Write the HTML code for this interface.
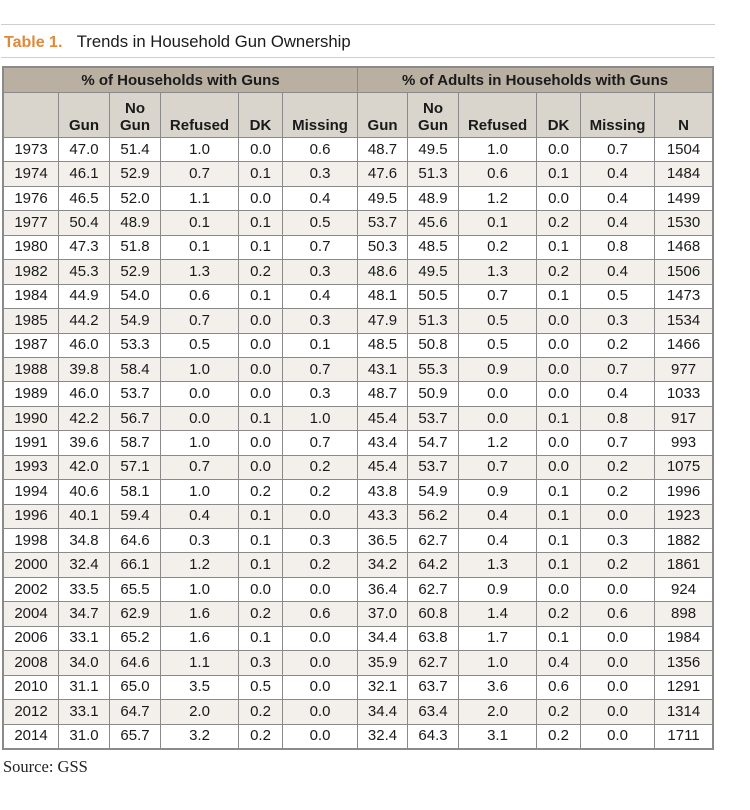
<!DOCTYPE html>
<html><head><meta charset="utf-8"><style>
html,body{margin:0;padding:0;background:#fff;width:750px;height:810px;overflow:hidden;position:relative;font-family:"Liberation Sans",Arial,sans-serif;color:#1a1a1a}
.rule{position:absolute;left:1px;width:714px;height:1px;background:#cfcfcf}
.title{position:absolute;left:4px;top:33px;font-size:16.7px;line-height:18px;white-space:nowrap}
.title b{color:#e0893a;margin-right:10px;font-size:16px}
table{position:absolute;left:3px;top:67px;border-collapse:collapse;table-layout:fixed;width:709px;font-size:15px}
td,th{padding:0;border:1px solid #8a8a8a;text-align:center;overflow:hidden;white-space:nowrap}
tr.h1 th{background:#b9b0a2;height:24px;font-size:15px;border-color:#8a8a8a}
tr.h2 th{background:#d9d4cc;height:41px;vertical-align:bottom;padding-bottom:3px;line-height:17px;font-size:15px}
tr.d td{height:23.45px;line-height:18px}
tr.d:nth-child(even) td{background:#f3f0ec}
table{outline:1px solid #8a8a8a}
.src{position:absolute;left:3px;top:757px;font-family:"Liberation Serif","Times New Roman",serif;font-size:16.5px;color:#222}
</style></head><body>
<div class="rule" style="top:24px"></div>
<div class="title"><b>Table 1.</b> Trends in Household Gun Ownership</div>
<div class="rule" style="top:57px"></div>
<table>
<colgroup><col style="width:55px"><col style="width:51px"><col style="width:51px"><col style="width:78px"><col style="width:44px"><col style="width:75px"><col style="width:50px"><col style="width:51px"><col style="width:78px"><col style="width:44px"><col style="width:74px"><col style="width:58px"></colgroup>
<tbody>
<tr class="h1"><th colspan="6">% of Households with Guns</th><th colspan="6">% of Adults in Households with Guns</th></tr>
<tr class="h2"><th></th><th>Gun</th><th>No<br>Gun</th><th>Refused</th><th>DK</th><th>Missing</th><th>Gun</th><th>No<br>Gun</th><th>Refused</th><th>DK</th><th>Missing</th><th>N</th></tr>
<tr class="d"><td>1973</td><td>47.0</td><td>51.4</td><td>1.0</td><td>0.0</td><td>0.6</td><td>48.7</td><td>49.5</td><td>1.0</td><td>0.0</td><td>0.7</td><td>1504</td></tr>
<tr class="d"><td>1974</td><td>46.1</td><td>52.9</td><td>0.7</td><td>0.1</td><td>0.3</td><td>47.6</td><td>51.3</td><td>0.6</td><td>0.1</td><td>0.4</td><td>1484</td></tr>
<tr class="d"><td>1976</td><td>46.5</td><td>52.0</td><td>1.1</td><td>0.0</td><td>0.4</td><td>49.5</td><td>48.9</td><td>1.2</td><td>0.0</td><td>0.4</td><td>1499</td></tr>
<tr class="d"><td>1977</td><td>50.4</td><td>48.9</td><td>0.1</td><td>0.1</td><td>0.5</td><td>53.7</td><td>45.6</td><td>0.1</td><td>0.2</td><td>0.4</td><td>1530</td></tr>
<tr class="d"><td>1980</td><td>47.3</td><td>51.8</td><td>0.1</td><td>0.1</td><td>0.7</td><td>50.3</td><td>48.5</td><td>0.2</td><td>0.1</td><td>0.8</td><td>1468</td></tr>
<tr class="d"><td>1982</td><td>45.3</td><td>52.9</td><td>1.3</td><td>0.2</td><td>0.3</td><td>48.6</td><td>49.5</td><td>1.3</td><td>0.2</td><td>0.4</td><td>1506</td></tr>
<tr class="d"><td>1984</td><td>44.9</td><td>54.0</td><td>0.6</td><td>0.1</td><td>0.4</td><td>48.1</td><td>50.5</td><td>0.7</td><td>0.1</td><td>0.5</td><td>1473</td></tr>
<tr class="d"><td>1985</td><td>44.2</td><td>54.9</td><td>0.7</td><td>0.0</td><td>0.3</td><td>47.9</td><td>51.3</td><td>0.5</td><td>0.0</td><td>0.3</td><td>1534</td></tr>
<tr class="d"><td>1987</td><td>46.0</td><td>53.3</td><td>0.5</td><td>0.0</td><td>0.1</td><td>48.5</td><td>50.8</td><td>0.5</td><td>0.0</td><td>0.2</td><td>1466</td></tr>
<tr class="d"><td>1988</td><td>39.8</td><td>58.4</td><td>1.0</td><td>0.0</td><td>0.7</td><td>43.1</td><td>55.3</td><td>0.9</td><td>0.0</td><td>0.7</td><td>977</td></tr>
<tr class="d"><td>1989</td><td>46.0</td><td>53.7</td><td>0.0</td><td>0.0</td><td>0.3</td><td>48.7</td><td>50.9</td><td>0.0</td><td>0.0</td><td>0.4</td><td>1033</td></tr>
<tr class="d"><td>1990</td><td>42.2</td><td>56.7</td><td>0.0</td><td>0.1</td><td>1.0</td><td>45.4</td><td>53.7</td><td>0.0</td><td>0.1</td><td>0.8</td><td>917</td></tr>
<tr class="d"><td>1991</td><td>39.6</td><td>58.7</td><td>1.0</td><td>0.0</td><td>0.7</td><td>43.4</td><td>54.7</td><td>1.2</td><td>0.0</td><td>0.7</td><td>993</td></tr>
<tr class="d"><td>1993</td><td>42.0</td><td>57.1</td><td>0.7</td><td>0.0</td><td>0.2</td><td>45.4</td><td>53.7</td><td>0.7</td><td>0.0</td><td>0.2</td><td>1075</td></tr>
<tr class="d"><td>1994</td><td>40.6</td><td>58.1</td><td>1.0</td><td>0.2</td><td>0.2</td><td>43.8</td><td>54.9</td><td>0.9</td><td>0.1</td><td>0.2</td><td>1996</td></tr>
<tr class="d"><td>1996</td><td>40.1</td><td>59.4</td><td>0.4</td><td>0.1</td><td>0.0</td><td>43.3</td><td>56.2</td><td>0.4</td><td>0.1</td><td>0.0</td><td>1923</td></tr>
<tr class="d"><td>1998</td><td>34.8</td><td>64.6</td><td>0.3</td><td>0.1</td><td>0.3</td><td>36.5</td><td>62.7</td><td>0.4</td><td>0.1</td><td>0.3</td><td>1882</td></tr>
<tr class="d"><td>2000</td><td>32.4</td><td>66.1</td><td>1.2</td><td>0.1</td><td>0.2</td><td>34.2</td><td>64.2</td><td>1.3</td><td>0.1</td><td>0.2</td><td>1861</td></tr>
<tr class="d"><td>2002</td><td>33.5</td><td>65.5</td><td>1.0</td><td>0.0</td><td>0.0</td><td>36.4</td><td>62.7</td><td>0.9</td><td>0.0</td><td>0.0</td><td>924</td></tr>
<tr class="d"><td>2004</td><td>34.7</td><td>62.9</td><td>1.6</td><td>0.2</td><td>0.6</td><td>37.0</td><td>60.8</td><td>1.4</td><td>0.2</td><td>0.6</td><td>898</td></tr>
<tr class="d"><td>2006</td><td>33.1</td><td>65.2</td><td>1.6</td><td>0.1</td><td>0.0</td><td>34.4</td><td>63.8</td><td>1.7</td><td>0.1</td><td>0.0</td><td>1984</td></tr>
<tr class="d"><td>2008</td><td>34.0</td><td>64.6</td><td>1.1</td><td>0.3</td><td>0.0</td><td>35.9</td><td>62.7</td><td>1.0</td><td>0.4</td><td>0.0</td><td>1356</td></tr>
<tr class="d"><td>2010</td><td>31.1</td><td>65.0</td><td>3.5</td><td>0.5</td><td>0.0</td><td>32.1</td><td>63.7</td><td>3.6</td><td>0.6</td><td>0.0</td><td>1291</td></tr>
<tr class="d"><td>2012</td><td>33.1</td><td>64.7</td><td>2.0</td><td>0.2</td><td>0.0</td><td>34.4</td><td>63.4</td><td>2.0</td><td>0.2</td><td>0.0</td><td>1314</td></tr>
<tr class="d"><td>2014</td><td>31.0</td><td>65.7</td><td>3.2</td><td>0.2</td><td>0.0</td><td>32.4</td><td>64.3</td><td>3.1</td><td>0.2</td><td>0.0</td><td>1711</td></tr>
</tbody></table>
<div class="src">Source: GSS</div>
</body></html>
